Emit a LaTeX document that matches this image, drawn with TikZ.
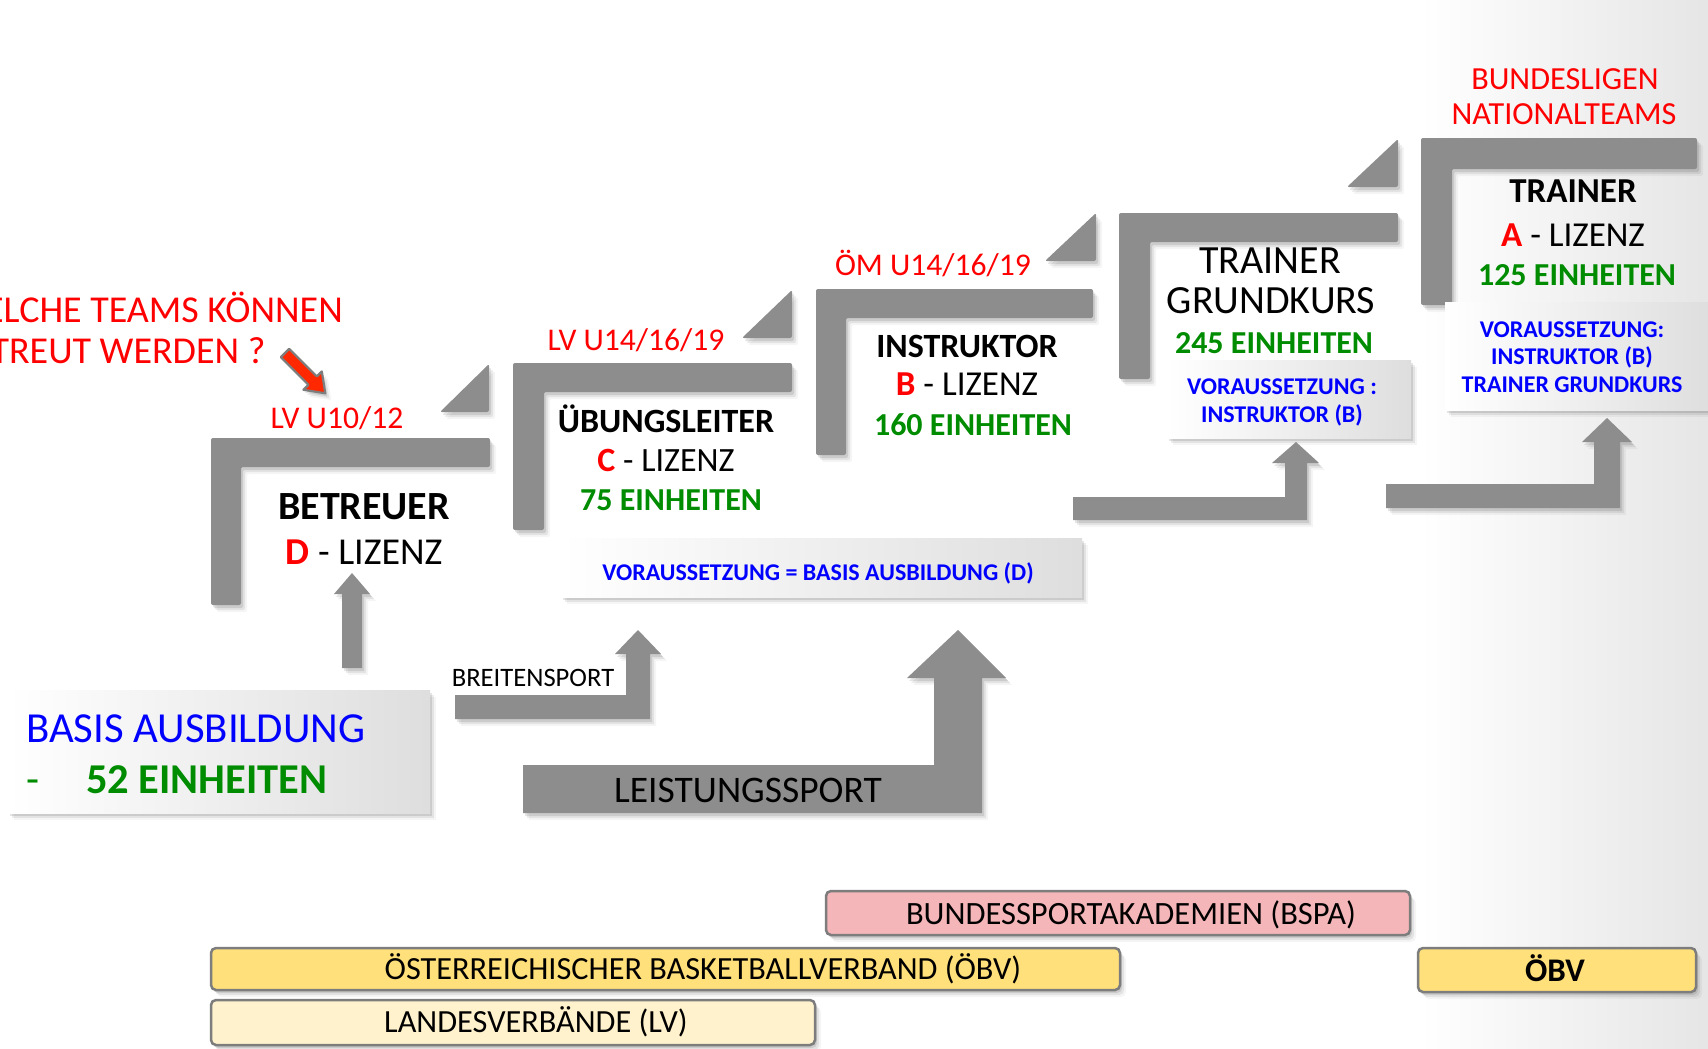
\documentclass[tikz,border=0pt]{standalone}
\usepackage{fontspec}
\setmainfont{Carlito}
\definecolor{barg}{RGB}{141,141,141}
\definecolor{tgreen}{RGB}{0,140,0}
\definecolor{tblue}{RGB}{0,0,255}
\definecolor{tred}{RGB}{255,0,0}
\definecolor{arrred}{RGB}{255,40,0}
\definecolor{pinkbox}{RGB}{244,182,185}
\definecolor{yelbox}{RGB}{255,224,122}
\definecolor{paleyel}{RGB}{255,242,204}
\definecolor{edgeg}{RGB}{125,125,125}
\tikzset{
 softsh/.style={
   preaction={fill=black,opacity=0.10,transform canvas={xshift=2pt,yshift=-3pt}},
   preaction={fill=black,opacity=0.07,transform canvas={xshift=4pt,yshift=-5pt}},
   preaction={fill=black,opacity=0.04,transform canvas={xshift=6pt,yshift=-7pt}}},
 graybar/.style={fill=barg, rounded corners=2pt, softsh},
 txt/.style={inner sep=0pt, anchor=base},
 gradbox/.style={left color=white, right color=black!13, softsh},
 orgbox/.style={draw=edgeg, line width=2.5pt, rounded corners=5pt, softsh},
 fsA/.style={font=\fontsize{31.6}{37}\selectfont},
 fsO/.style={font=\fontsize{32.3}{38}\selectfont},
 fsB/.style={font=\fontsize{38}{45}\selectfont},
 fsLiz/.style={font=\fontsize{35}{42}\selectfont},
 fsHb/.style={font=\fontsize{34}{40}\selectfont\bfseries},
 fsE/.style={font=\fontsize{32}{38}\selectfont\bfseries, text=tgreen},
 fsV/.style={font=\fontsize{24}{28}\selectfont\bfseries, text=tblue},
 fsBig/.style={font=\fontsize{40}{48}\selectfont},
}
\newcommand\stepbracket[6]{%
  \fill[graybar] (#1,#2) -- (#3,#2) -- (#3,#4) -- (#5,#4) -- (#5,#6) -- (#1,#6) -- cycle;}
\newcommand\steptri[3]{%
  \fill[graybar] (#1,#3) -- (#2,#3) -- (#2,#3-48) -- cycle;}
% arm-left, arm-top, arm-bottom, shaft-left, shaft-right, headbase, headleft, headright, tip
\newcommand\elbowarrow[9]{%
  \fill[fill=barg, softsh] (#1,#2) -- (#4,#2) -- (#4,#6) -- (#7,#6) -- ({(#4+#5)/2},#9) -- (#8,#6) -- (#5,#6) -- (#5,#3) -- (#1,#3) -- cycle;}
\begin{document}
\begin{tikzpicture}[x=1pt,y=-1pt]
\useasboundingbox (0,0) rectangle (1708,1049);
\fill[white] (0,0) rectangle (1708,1049);
\shade[left color=white, right color=black!10] (1420,0) rectangle (1708,1049);
\clip (0,0) rectangle (1708,1049);

% ---------- step brackets ----------
\stepbracket{211}{438}{490}{467}{241}{605}
\stepbracket{513}{363}{792}{392}{544}{530}
\stepbracket{816}{289}{1093}{318}{846}{455}
\stepbracket{1119}{213}{1398}{242}{1150}{379}
\stepbracket{1421}{138}{1697}{169}{1452}{305}
% ---------- triangles ----------
\steptri{440}{489}{412}
\steptri{742}{792}{338}
\steptri{1045}{1096}{261}
\steptri{1347}{1398}{187}

% ---------- red labels ----------
\node[txt, fsA, text=tred] (lv1012) at (337,428) {LV U10/12};
\node[txt, fsA, text=tred] (lv1419) at (636,350) {LV U14/16/19};
\node[txt, fsA, text=tred] (om1419) at (933,275) {ÖM U14/16/19};
\node[txt, font=\fontsize{32.2}{38}\selectfont, text=tred] (bl) at (1565,89) {BUNDESLIGEN};
\node[txt, font=\fontsize{32.2}{38}\selectfont, text=tred] (nt) at (1564,124) {NATIONALTEAMS};
\node[inner sep=0pt, anchor=base east, fsB, text=tred] (q1) at (343,322) {WELCHE TEAMS KÖNNEN};
\node[inner sep=0pt, anchor=base west, fsB, text=tred] (q2) at ([yshift=-41pt]q1.base west) {BETREUT WERDEN ?};

% red pointer arrow
\draw[fill=arrred, draw=edgeg, line width=2.2pt, line join=round, softsh]
 (289.2,348.8) -- (316.8,376.4) -- (321.8,371.4) -- (325.3,393.3) -- (303.4,389.8) -- (308.4,384.8) -- (280.8,357.2) -- cycle;

% ---------- level texts ----------
\node[txt, font=\fontsize{40}{48}\selectfont\bfseries] (betr) at (364,519) {BETREUER};
\node[txt, font=\fontsize{38}{45}\selectfont] (dliz) at (364,564) {\textcolor{tred}{\bfseries D} - LIZENZ};

\node[txt, fsHb] (uebl) at (666,432) {ÜBUNGSLEITER};
\node[txt, font=\fontsize{34}{40}\selectfont] (cliz) at (666,471) {\textcolor{tred}{\bfseries C} - LIZENZ};
\node[txt, fsE] (e75) at (671,510) {75 EINHEITEN};

\node[txt, fsHb] (instr) at (967,357) {INSTRUKTOR};
\node[txt, fsLiz] (bliz) at (967,395) {\textcolor{tred}{\bfseries B} - LIZENZ};
\node[txt, fsE] (e160) at (973,435) {160 EINHEITEN};

\node[txt, fsBig] (tg1) at (1270,273) {TRAINER};
\node[txt, fsBig] (tg2) at (1271,313) {GRUNDKURS};
\node[txt, fsE] (e245) at (1274,353) {245 EINHEITEN};

\node[txt, font=\fontsize{35}{42}\selectfont\bfseries] (tr) at (1573,202) {TRAINER};
\node[txt, fsLiz] (aliz) at (1573,246) {\textcolor{tred}{\bfseries A} - LIZENZ};
\node[txt, fsE] (e125) at (1577,285) {125 EINHEITEN};

% ---------- prerequisite boxes ----------
\shade[gradbox] (561,538) rectangle (1082,597);
\node[txt, fsV] (vb1) at (818,580) {VORAUSSETZUNG = BASIS AUSBILDUNG (D)};

\shade[gradbox] (1167,360) rectangle (1411,438);
\node[txt, fsV] (vb2a) at (1282,394) {VORAUSSETZUNG :};
\node[txt, fsV] (vb2b) at (1282,422) {INSTRUKTOR (B)};

\shade[gradbox] (1445,302) rectangle (1712,410);
\node[txt, fsV] (vb3a) at (1572,337) {VORAUSSETZUNG:};
\node[txt, fsV] (vb3b) at (1572,364) {INSTRUKTOR (B)};
\node[txt, fsV] (vb3c) at (1572,392) {TRAINER GRUNDKURS};

% ---------- basis box ----------
\shade[gradbox] (8,690) rectangle (430,813);
\node[inner sep=0pt, anchor=base west, font=\fontsize{42.8}{50}\selectfont, text=tblue] (basis) at (26,742) {BASIS AUSBILDUNG};
\node[inner sep=0pt, anchor=base west, font=\fontsize{42.5}{50}\selectfont, text=tgreen] (dash) at (26,793) {-};
\node[inner sep=0pt, anchor=base west, text=tgreen, font=\fontsize{42.5}{50}\selectfont\bfseries] (e52) at (86,793) {52 EINHEITEN};

% ---------- arrows ----------
\fill[fill=barg, softsh] (342,668) -- (342,594) -- (334,594) -- (352,573) -- (370,594) -- (362,594) -- (362,668) -- cycle;
\elbowarrow{455}{695}{719}{626}{650}{654}{615}{661}{630}
\elbowarrow{523}{765}{813}{934}{982}{678}{907}{1006}{630}
\elbowarrow{1073}{497}{520}{1285}{1307}{463}{1272}{1319}{442}
\elbowarrow{1386}{484}{508}{1594}{1620}{442}{1582}{1632}{418}

\node[txt, font=\fontsize{26.6}{31}\selectfont] (breit) at (533,686) {BREITENSPORT};
\node[txt, font=\fontsize{37.5}{44}\selectfont] (leist) at (748,802) {LEISTUNGSSPORT};

% ---------- organisation bars ----------
\path[orgbox, fill=pinkbox] (826,891) rectangle (1410,935);
\node[txt, font=\fontsize{32.5}{38}\selectfont] (bspa) at (1131,924) {BUNDESSPORTAKADEMIEN (BSPA)};
\path[orgbox, fill=yelbox] (211,948) rectangle (1120,990);
\node[txt, fsO] (oebv) at (703,979) {ÖSTERREICHISCHER BASKETBALLVERBAND (ÖBV)};
\path[orgbox, fill=yelbox] (1418,948) rectangle (1696,992);
\node[txt, font=\fontsize{33}{39}\selectfont\bfseries] (oebv2) at (1555,981) {ÖBV};
\path[orgbox, fill=paleyel] (211,1000) rectangle (815,1045);
\node[txt, fsO] (lv) at (536,1032) {LANDESVERBÄNDE (LV)};
\end{tikzpicture}
\end{document}
